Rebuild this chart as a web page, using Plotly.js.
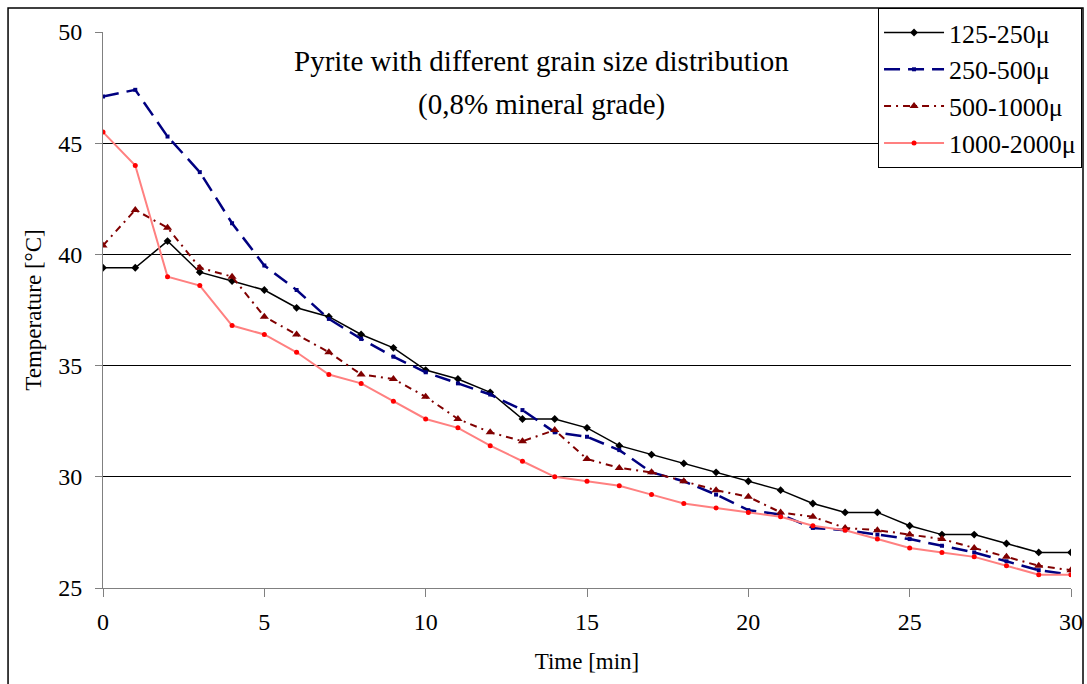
<!DOCTYPE html>
<html>
<head>
<meta charset="utf-8">
<script src="https://cdn.plot.ly/plotly-3.0.1.min.js"></script>
<style>
html,body{margin:0;padding:0;background:#fff;}
#chart{width:1087px;height:684px;}
</style>
</head>
<body>
<div id="chart"></div>
<script>
// ---- data ----
const timeMin = [0,1,2,3,4,5,6,7,8,9,10,11,12,13,14,15,16,17,18,19,20,21,22,23,24,25,26,27,28,29,30];
const seriesNames = ["125-250μ", "250-500μ", "500-1000μ", "1000-2000μ"];
const temp125_250 = [39.4,39.4,40.6,39.2,38.8,38.4,37.6,37.2,36.4,35.8,34.8,34.4,33.8,32.6,32.6,32.2,31.4,31.0,30.6,30.2,29.8,29.4,28.8,28.4,28.4,27.8,27.4,27.4,27.0,26.6,26.6];
const temp250_500 = [47.1,47.4,45.3,43.7,41.4,39.5,38.4,37.1,36.2,35.4,34.7,34.2,33.7,33.0,32.0,31.8,31.2,30.2,29.8,29.2,28.5,28.3,27.7,27.6,27.4,27.2,26.9,26.6,26.2,25.8,25.6];
const temp500_1000 = [40.4,42.0,41.2,39.4,39.0,37.2,36.4,35.6,34.6,34.4,33.6,32.6,32.0,31.6,32.1,30.8,30.4,30.2,29.8,29.4,29.1,28.4,28.2,27.7,27.6,27.4,27.2,26.8,26.4,26.0,25.8];
const temp1000_2000 = [45.5,44.0,39.0,38.6,36.8,36.4,35.6,34.6,34.2,33.4,32.6,32.2,31.4,30.7,30.0,29.8,29.6,29.2,28.8,28.6,28.4,28.2,27.8,27.6,27.2,26.8,26.6,26.4,26.0,25.6,25.6];
const titleLines = ["Pyrite with different grain size distribution", "(0,8% mineral grade)"];
const xTitle = "Time [min]";
const yTitle = "Temperature [°C]";
const gridValues = [30,35,40,45];

const FONT = "'Liberation Serif', 'Times New Roman', serif";

const traces = [
  {x: timeMin, y: temp125_250, name: seriesNames[0], type: "scatter", mode: "lines+markers",
   line: {color: "#000000", width: 1.5}, marker: {symbol: "diamond", size: 6, color: "#000000"}},
  {x: timeMin, y: temp250_500, name: seriesNames[1], type: "scatter", mode: "lines+markers",
   line: {color: "#000080", width: 2.5, dash: "16px,8px"}, marker: {symbol: "square", size: 4, color: "#000080"}},
  {x: timeMin, y: temp500_1000, name: seriesNames[2], type: "scatter", mode: "lines+markers",
   line: {color: "#800000", width: 2, dash: "7px,5px,2px,5px"}, marker: {symbol: "triangle-up", size: 8, color: "#800000"}},
  {x: timeMin, y: temp1000_2000, name: seriesNames[3], type: "scatter", mode: "lines+markers",
   line: {color: "#FF8080", width: 2}, marker: {symbol: "circle", size: 5, color: "#FF0000"}},
  // overlay axis only for gridlines
  {x: [timeMin[0]], y: [gridValues[0]], yaxis: "y2", showlegend: false, hoverinfo: "skip",
   mode: "markers", marker: {opacity: 0}}
];

const layout = {
  width: 1087, height: 684,
  paper_bgcolor: "#ffffff", plot_bgcolor: "rgba(0,0,0,0)",
  margin: {l: 103, r: 16, t: 32, b: 96, autoexpand: false},
  font: {family: FONT, color: "#000000", size: 24},
  showlegend: true,
  xaxis: {
    range: [0, 30], dtick: 5, tick0: 0,
    showline: true, linecolor: "#808080", linewidth: 1,
    ticks: "outside", ticklen: 8, tickcolor: "#808080",
    showgrid: false, zeroline: false,
    tickfont: {family: FONT, size: 24},
    ticklabelstandoff: 4,
    title: {text: xTitle, font: {family: FONT, size: 23}, standoff: 19}
  },
  yaxis: {
    range: [25, 50], dtick: 5, tick0: 25,
    showline: true, linecolor: "#808080", linewidth: 1,
    ticks: "outside", ticklen: 7, tickcolor: "#808080",
    showgrid: false, zeroline: false,
    tickfont: {family: FONT, size: 24},
    ticklabelstandoff: 8,
    title: {text: yTitle, font: {family: FONT, size: 23}, standoff: 10}
  },
  yaxis2: {
    overlaying: "y", matches: "y", range: [25, 50],
    tickvals: gridValues, showticklabels: false, ticks: "",
    showgrid: true, gridcolor: "#000000", gridwidth: 1,
    zeroline: false, showline: false
  },
  legend: {
    x: 1.0114, xanchor: "right", y: 1.043, yanchor: "top",
    bgcolor: "#ffffff", bordercolor: "#000000", borderwidth: 1,
    font: {family: FONT, size: 26}, itemwidth: 60, tracegroupgap: 0
  },
  annotations: [
    {xref: "paper", yref: "paper", x: 0.4525, y: 0.948, xanchor: "center", yanchor: "middle",
     text: titleLines[0], showarrow: false, font: {family: FONT, size: 29}},
    {xref: "paper", yref: "paper", x: 0.4525, y: 0.870, xanchor: "center", yanchor: "middle",
     text: titleLines[1], showarrow: false, font: {family: FONT, size: 29}}
  ],
  shapes: [
    {type: "rect", xref: "paper", yref: "paper", x0: -0.0981, x1: 1.0124, y0: -0.19, y1: 1.0432,
     line: {color: "#000000", width: 1.5}, fillcolor: "rgba(0,0,0,0)", layer: "below"}
  ]
};

Plotly.newPlot("chart", traces, layout, {displayModeBar: false, staticPlot: true});
</script>
</body>
</html>
